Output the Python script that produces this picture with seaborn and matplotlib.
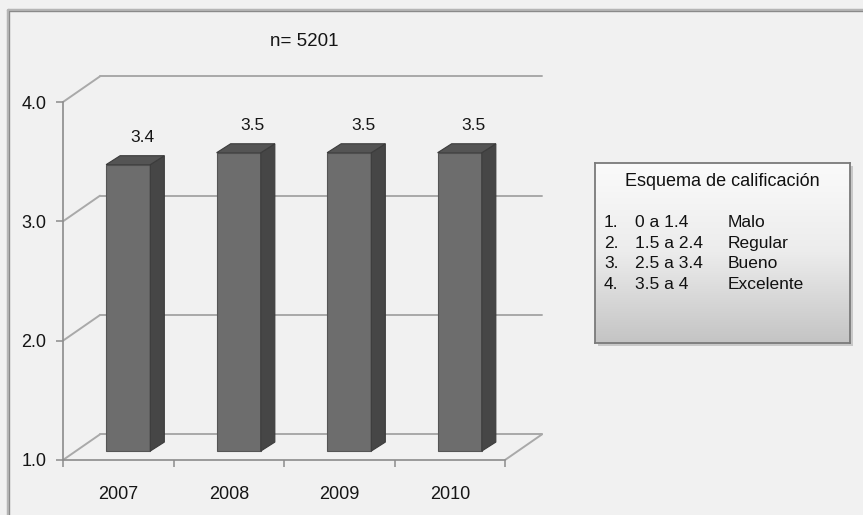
import numpy as np
import pandas as pd
import seaborn as sns
import matplotlib.pyplot as plt
from matplotlib.patches import Polygon, Rectangle
from matplotlib.lines import Line2D

# data
years = ["2007", "2008", "2009", "2010"]
scores = [3.4, 3.5, 3.5, 3.5]
y_ticks = [1.0, 2.0, 3.0, 4.0]
n_total = 5201
scheme_num = ["1.", "2.", "3.", "4."]
scheme_range = ["0 a 1.4", "1.5 a 2.4", "2.5 a 3.4", "3.5 a 4"]
scheme_name = ["Malo", "Regular", "Bueno", "Excelente"]

df = pd.DataFrame({"year": years, "score": scores})

sns.set_theme(style="white")
plt.rcParams["font.family"] = ["Liberation Sans", "DejaVu Sans"]
txt_col = "#151515"

W, H = 863, 515
fig = plt.figure(figsize=(W / 100, H / 100), dpi=100, facecolor="#f1f1f1")
ax = fig.add_axes([63 / W, 1 - 460 / H, 442 / W, 358 / H])
ax.set_facecolor("none")

# fake 3d offsets (data units)
wall_dx, wall_dy = 0.335, 0.215
bar_dx, bar_dy = 0.09, 0.075
dep_dx, dep_dy = 0.127, 0.075
grid_col = "#a9a9a9"

sns.barplot(data=df, x="year", y="score", color="#6d6d6d", width=0.4,
            saturation=1, ax=ax, zorder=3)
ax.set_xlim(-0.5, 3.5)
ax.set_ylim(1, 4)

# back wall + side wall gridlines
for t in y_ticks:
    ax.plot([-0.5, -0.5 + wall_dx], [t, t + wall_dy], color=grid_col, lw=1.4,
            clip_on=False, zorder=1)
    ax.plot([-0.5 + wall_dx, 3.5 + wall_dx], [t + wall_dy, t + wall_dy],
            color=grid_col, lw=1.4, clip_on=False, zorder=1)
ax.plot([3.5, 3.5 + wall_dx], [1, 1 + wall_dy], color=grid_col, lw=1.4,
        clip_on=False, zorder=1)

# move bars to mid depth and add side/top faces
for p, s in zip(ax.patches, scores):
    p.set_x(p.get_x() + bar_dx)
    p.set_y(1 + bar_dy)
    p.set_height(p.get_height() - 1)
    p.set_edgecolor("#555555")
    p.set_linewidth(0.8)
    x0, w = p.get_x(), p.get_width()
    y0, y1 = p.get_y(), p.get_y() + p.get_height()
    side = Polygon([(x0 + w, y0), (x0 + w + dep_dx, y0 + dep_dy),
                    (x0 + w + dep_dx, y1 + dep_dy), (x0 + w, y1)],
                   closed=True, facecolor="#464646", edgecolor="#3c3c3c",
                   lw=0.8, zorder=3, clip_on=False)
    top = Polygon([(x0, y1), (x0 + dep_dx, y1 + dep_dy),
                   (x0 + w + dep_dx, y1 + dep_dy), (x0 + w, y1)],
                  closed=True, facecolor="#545454", edgecolor="#3c3c3c",
                  lw=0.8, zorder=3, clip_on=False)
    ax.add_patch(side)
    ax.add_patch(top)
    ax.annotate(f"{s:.1f}", (x0 + w / 2 + dep_dx, y1 + dep_dy),
                xytext=(0, 10), textcoords="offset points", ha="center",
                va="baseline", fontsize=12.5, color=txt_col)

# axes styling
for side_name in ["top", "right"]:
    ax.spines[side_name].set_visible(False)
for side_name in ["left", "bottom"]:
    ax.spines[side_name].set_color("#8c8c8c")
    ax.spines[side_name].set_linewidth(1.2)
ax.set_yticks(y_ticks)
ax.set_yticklabels([f"{t:.1f}" for t in y_ticks])
ax.set_xticks(range(len(years)))
ax.set_xticklabels(years)
ax.set_xticks(np.arange(-0.5, len(years)), minor=True)
ax.tick_params(axis="y", which="major", left=True, length=5, width=1.1,
               color="#8c8c8c", pad=7, labelsize=13, labelcolor=txt_col)
ax.tick_params(axis="x", which="major", bottom=True, length=0, pad=19,
               labelsize=13, labelcolor=txt_col)
ax.tick_params(axis="x", which="minor", bottom=True, length=5, width=1.1,
               color="#8c8c8c")
ax.set_xlabel("")
ax.set_ylabel("")

fig.text(304 / W, 1 - 42 / H, f"n= {n_total}", ha="center", va="center",
         fontsize=13.5, color=txt_col)

# outer frame (top and left edges)
fig.add_artist(Line2D([8 / W, 1], [1 - 10 / H, 1 - 10 / H], color="#b5b5b5", lw=2.5))
fig.add_artist(Line2D([8 / W, 8 / W], [0, 1 - 10 / H], color="#b5b5b5", lw=2.5))
fig.add_artist(Line2D([9 / W, 1], [1 - 11 / H, 1 - 11 / H], color="#8a8a8a", lw=0.8))
fig.add_artist(Line2D([9 / W, 9 / W], [0, 1 - 11 / H], color="#8a8a8a", lw=0.8))

# grading scheme box
fig.add_artist(Rectangle((598 / W, 1 - 346 / H), 255 / W, 180 / H,
                         transform=fig.transFigure, facecolor="#c8c8c8",
                         edgecolor="none", zorder=0))
lax = fig.add_axes([595 / W, 1 - 343 / H, 255 / W, 180 / H])
grad = np.linspace(0, 1, 256).reshape(-1, 1)
lax.imshow(grad, cmap=sns.blend_palette(["#fbfbfb", "#ececec", "#c4c4c4"], as_cmap=True),
           aspect="auto", extent=(0, 1, 0, 1), origin="upper")
lax.set_xlim(0, 1)
lax.set_ylim(0, 1)
lax.set_xticks([])
lax.set_yticks([])
for sp in lax.spines.values():
    sp.set_visible(True)
    sp.set_color("#7a7a7a")
    sp.set_linewidth(1.3)
lax.text(0.5, 1 - 19 / 180, "Esquema de calificación", ha="center", va="center",
         fontsize=13, color="#111111", transform=lax.transAxes)
for i, (a, b, c) in enumerate(zip(scheme_num, scheme_range, scheme_name)):
    yy = 1 - (60 + i * 20.5) / 180
    lax.text(9 / 255, yy, a, ha="left", va="center", fontsize=12.5,
             color="#111111", transform=lax.transAxes)
    lax.text(40 / 255, yy, b, ha="left", va="center", fontsize=12.5,
             color="#111111", transform=lax.transAxes)
    lax.text(133 / 255, yy, c, ha="left", va="center", fontsize=12.5,
             color="#111111", transform=lax.transAxes)

fig.savefig("out.png", dpi=100, facecolor=fig.get_facecolor())
